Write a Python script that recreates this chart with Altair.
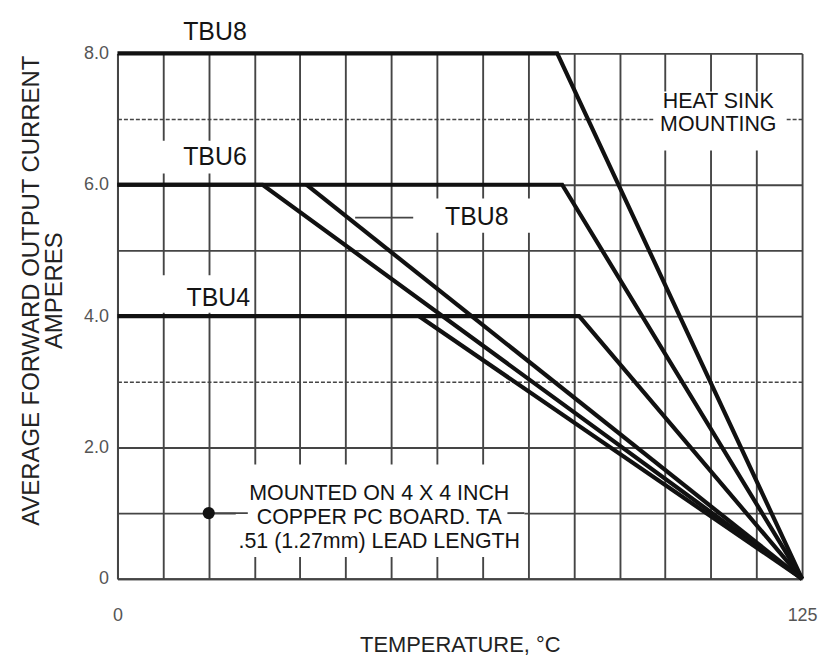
import altair as alt
import pandas as pd

# ---------------- data ----------------
curve_names = ["TBU8 heat sink", "TBU6 heat sink", "TBU4 heat sink",
               "TBU6 PC board", "TBU8 PC board", "TBU4 PC board"]
curve_temps = [[0, 80.3, 125], [0, 81.2, 125], [0, 84.3, 125],
               [0, 26.5, 125], [34.5, 125], [55.0, 125]]
curve_amps = [[8.0, 8.0, 0.0], [6.0, 6.0, 0.0], [4.0, 4.0, 0.0],
              [6.0, 6.0, 0.0], [6.0, 0.0], [4.0, 0.0]]

x_ticks = [0, 8.333, 16.667, 25, 33.333, 41.667, 50, 58.333, 66.667,
           75, 83.333, 91.667, 100, 108.333, 116.667, 125]
y_ticks = [0, 1, 2, 3, 4, 5, 6, 7, 8]

label_texts = ["TBU8", "TBU6", "TBU4", "TBU8"]
label_x = [17.8, 17.8, 18.4, 65.6]
label_y = [8.33, 6.42, 4.28, 5.51]

note_texts = ["HEAT SINK", "MOUNTING", "MOUNTED ON 4 X 4 INCH",
              "COPPER PC BOARD. TA", ".51 (1.27mm) LEAD LENGTH"]
note_x = [109.7, 109.7, 47.8, 47.8, 47.8]
note_y = [7.26, 6.91, 1.29, 0.93, 0.56]

mask_x0 = [7.6, 7.6, 55.0, 97.9, 21.6]
mask_x1 = [24.9, 24.9, 77.4, 122.1, 74.3]
mask_y0 = [6.17, 4.05, 5.27, 6.52, 0.33]
mask_y1 = [6.67, 4.62, 5.79, 7.42, 1.74]

leader_x0 = [43.4, 16.667, 71.2]
leader_x1 = [54.0, 23.8, 74.3]
leader_y = [5.5, 1.0, 1.0]

dot_x = [16.667]
dot_y = [1.0]

# ---------------- tables ----------------
rows = []
for name, xs, ys in zip(curve_names, curve_temps, curve_amps):
    for i, (xv, yv) in enumerate(zip(xs, ys)):
        rows.append({"name": name, "step": i, "temp": xv, "amps": yv})
curves = pd.DataFrame(rows)
labels = pd.DataFrame({"text": label_texts, "x": label_x, "y": label_y})
notes = pd.DataFrame({"text": note_texts, "x": note_x, "y": note_y})
masks = pd.DataFrame({"x0": mask_x0, "x1": mask_x1, "y0": mask_y0, "y1": mask_y1})
leaders = pd.DataFrame({"x0": leader_x0, "x1": leader_x1, "y": leader_y})
dots = pd.DataFrame({"x": dot_x, "y": dot_y})

GRID = "#454545"
FONT = "Liberation Sans"
INK = "#141414"

xscale = alt.Scale(domain=[0, 125], nice=False, zero=False)
yscale = alt.Scale(domain=[0, 8], nice=False, zero=False)

xaxis = alt.Axis(
    title="TEMPERATURE, °C", values=x_ticks,
    labelExpr="datum.value == 0 || datum.value == 125 ? datum.label : ''",
    grid=True, gridColor=GRID, gridWidth=1.9, gridOpacity=1,
    ticks=False, domain=True, domainColor=GRID, domainWidth=2,
    labelFontSize=18, labelColor="#555555", labelPadding=28, labelFont=FONT,
    labelFlush=False,
    titleFontSize=22, titleFontWeight="normal", titleColor="#222222", titleFont=FONT,
    titleY=66, titleBaseline="middle",
)
yaxis = alt.Axis(
    title=["AVERAGE FORWARD OUTPUT CURRENT", "AMPERES"], values=y_ticks,
    labelExpr="datum.value == 0 ? '0' : (datum.value % 2 == 0 ? format(datum.value, '.1f') : '')",
    grid=True, gridColor=GRID, gridOpacity=1,
    gridWidth={"condition": {"test": "datum.value == 3 || datum.value == 7", "value": 1.6}, "value": 1.9},
    gridDash={"condition": {"test": "datum.value == 3 || datum.value == 7", "value": [4, 2]}, "value": []},
    ticks=False, domain=True, domainColor=GRID, domainWidth=2,
    labelFontSize=18, labelColor="#555555", labelPadding=9, labelFont=FONT,
    titleFontSize=24, titleFontWeight="normal", titleColor="#222222", titleFont=FONT,
    titleAngle=270, titleLineHeight=23, titleX=-86, titleY=238,
    titleAlign="center", titleBaseline="middle",
)


def X(field):
    return alt.X(field, type="quantitative", scale=xscale, axis=xaxis)


def Y(field):
    return alt.Y(field, type="quantitative", scale=yscale, axis=yaxis)


mask_layer = alt.Chart(masks).mark_rect(color="white").encode(
    x=X("x0"), x2="x1", y=Y("y0"), y2="y1")

leader_layer = alt.Chart(leaders).mark_rule(color=GRID, strokeWidth=1.9).encode(
    x=X("x0"), x2="x1", y=Y("y"))

curve_layer = alt.Chart(curves).mark_line(
    color="#111111", strokeWidth=4.2, strokeJoin="miter", clip=False).encode(
    x=X("temp"), y=Y("amps"), detail="name:N", order="step:O")

dot_layer = alt.Chart(dots).mark_point(
    filled=True, color="#111111", size=150, opacity=1).encode(x=X("x"), y=Y("y"))

label_layer = alt.Chart(labels).mark_text(
    font=FONT, fontSize=25, color=INK, align="center", baseline="middle").encode(
    x=X("x"), y=Y("y"), text="text:N")

note_layer = alt.Chart(notes).mark_text(
    font=FONT, fontSize=21.5, color=INK, align="center", baseline="middle").encode(
    x=X("x"), y=Y("y"), text="text:N")

chart = alt.layer(
    mask_layer, leader_layer, curve_layer, dot_layer, label_layer, note_layer
).properties(
    width=688, height=528,
    autosize=alt.AutoSizeParams(type="none"),
    padding={"left": 110, "top": 44, "right": 16, "bottom": 80},
).configure_view(stroke=None).configure(font=FONT, background="white")

chart.save("out.html", embed_options={"renderer": "svg", "actions": False})
